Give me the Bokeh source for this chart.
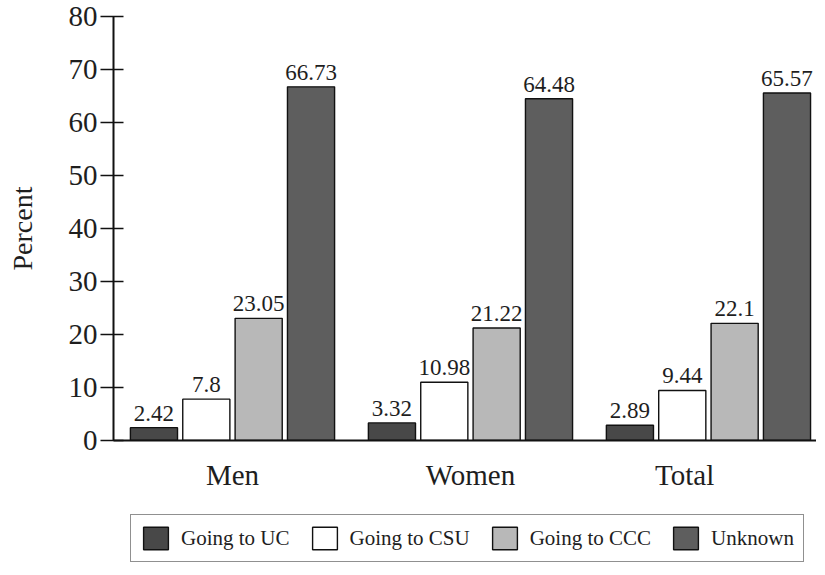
from bokeh.plotting import figure
from bokeh.layouts import column
from bokeh.models import (Range1d, FixedTicker, ColumnDataSource, LabelSet,
                          Legend, LegendItem)
from bokeh.transform import dodge
from bokeh.embed import file_html
from bokeh.resources import INLINE

# ---- data ----
categories = ["Men", "Women", "Total"]
series_names = ["Going to UC", "Going to CSU", "Going to CCC", "Unknown"]
going_uc = [2.42, 3.32, 2.89]
going_csu = [7.8, 10.98, 9.44]
going_ccc = [23.05, 21.22, 22.1]
unknown = [66.73, 64.48, 65.57]
y_ticks = [0, 10, 20, 30, 40, 50, 60, 70, 80]

# ---- styles ----
FONT = "Liberation Serif"
TEXT = "#1e1e1e"
fills = ["#484848", "#ffffff", "#b8b8b8", "#5e5e5e"]
offsets = [-0.33, -0.11, 0.11, 0.33]
bar_w = 0.198
label_shift = [0.0, 0.0, -0.1]   # category label nudges as in the original print

centers = [i + 0.5 for i in range(len(categories))]
values = [going_uc, going_csu, going_ccc, unknown]
keys = ["uc", "csu", "ccc", "unk"]

data = {"x": centers}
for k, v in zip(keys, values):
    data[k] = v
    data[k + "_lbl"] = [str(a) for a in v]
source = ColumnDataSource(data)

p = figure(width=816, height=500, output_backend="svg", toolbar_location=None,
           x_range=Range1d(0.0, 2.954), y_range=Range1d(0, 80),
           min_border_left=113, min_border_right=0, min_border_top=16,
           min_border_bottom=60)
p.outline_line_color = None
p.grid.visible = False
p.background_fill_color = "white"
p.border_fill_color = "white"

for k, off, col in zip(keys, offsets, fills):
    p.vbar(x=dodge("x", off), top=k, bottom=0, width=bar_w, source=source,
           fill_color=col, line_color="#111111", line_width=1.4)
    labels = LabelSet(x=dodge("x", off), y=k, text=k + "_lbl", source=source,
                      text_align="center", text_baseline="alphabetic",
                      y_offset=7, text_font=FONT, text_font_size="23px",
                      text_color=TEXT)
    p.add_layout(labels)

# y axis
ya = p.yaxis[0]
ya.ticker = FixedTicker(ticks=y_ticks)
ya.minor_tick_line_color = None
ya.major_tick_in = 10
ya.major_tick_out = 13
ya.major_tick_line_width = 1.5
ya.major_tick_line_color = "#111111"
ya.axis_line_width = 2
ya.axis_line_color = "#111111"
ya.major_label_text_font = FONT
ya.major_label_text_font_size = "29px"
ya.major_label_text_color = TEXT
ya.major_label_standoff = 3
ya.axis_label = "Percent"
ya.axis_label_text_font = FONT
ya.axis_label_text_font_size = "28px"
ya.axis_label_text_font_style = "normal"
ya.axis_label_text_color = TEXT
ya.axis_label_standoff = 28

# x axis
tick_pos = [c + s for c, s in zip(centers, label_shift)]
xa = p.xaxis[0]
xa.ticker = FixedTicker(ticks=tick_pos)
xa.major_label_overrides = {t: lab for t, lab in zip(tick_pos, categories)}
xa.major_tick_in = 0
xa.major_tick_out = 0
xa.minor_tick_line_color = None
xa.axis_line_width = 2
xa.axis_line_color = "#111111"
xa.major_label_text_font = FONT
xa.major_label_text_font_size = "29px"
xa.major_label_text_color = TEXT
xa.major_label_standoff = 18

# ---- legend strip below the chart ----
leg = figure(width=816, height=66, output_backend="svg", toolbar_location=None,
             x_range=Range1d(0, 1), y_range=Range1d(0, 1),
             min_border=0, x_axis_type=None, y_axis_type=None)
leg.outline_line_color = None
leg.grid.visible = False
leg_renderers = []
for k, off, col in zip(keys, offsets, fills):
    r = leg.vbar(x=dodge("x", off), top=k, bottom=0, width=bar_w, source=source,
                 fill_color=col, line_color="#111111", line_width=1.4,
                 visible=False)
    leg_renderers.append(r)

legend = Legend(
    items=[LegendItem(label=n, renderers=[r]) for n, r in zip(series_names, leg_renderers)],
    orientation="horizontal", location=(17, 4),
    label_text_font=FONT, label_text_font_size="21px", label_text_color=TEXT,
    glyph_width=31, glyph_height=28, label_standoff=10, spacing=19,
    padding=9, margin=0, border_line_color="#222222", border_line_width=1.5,
    background_fill_color="white", background_fill_alpha=1.0,
    inactive_fill_alpha=0.0,
)
leg.add_layout(legend, "center")

layout = column(p, leg, spacing=0)
open("out.html", "w").write(file_html(layout, INLINE))
